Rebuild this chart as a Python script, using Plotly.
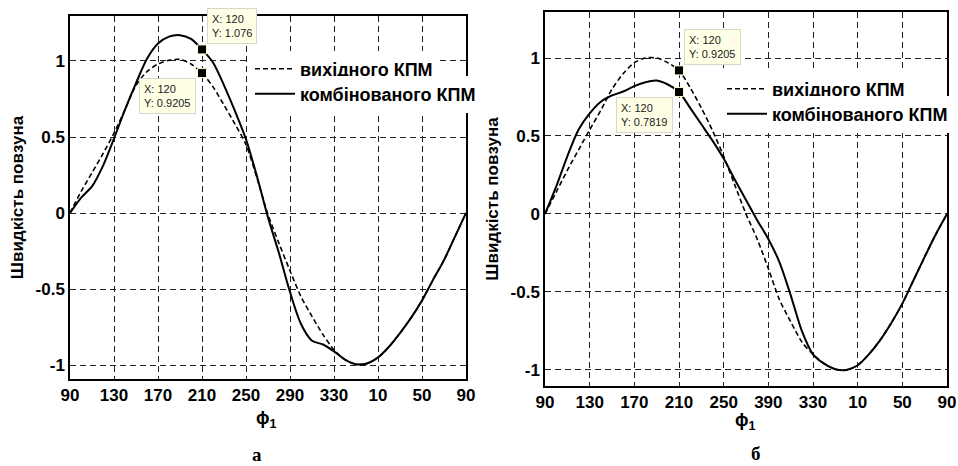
import plotly.graph_objects as go

# ---------------- data ----------------
phi = list(range(90, 451, 10))  # crank angle, continuous scale (90..450)

tick_vals = [90, 130, 170, 210, 250, 290, 330, 370, 410, 450]
tick_text_a = ["90", "130", "170", "210", "250", "290", "330", "10", "50", "90"]
tick_text_b = ["90", "130", "170", "210", "250", "390", "330", "10", "50", "90"]
y_tick_vals = [-1, -0.5, 0, 0.5, 1]
y_tick_text = ["-1", "-0.5", "0", "0.5", "1"]

# panel a
base_a = [0, 0.14, 0.265, 0.39, 0.525, 0.68, 0.84, 0.93, 0.98, 1.005, 1.01, 0.98, 0.9205,
          0.83, 0.71, 0.585, 0.45, 0.23, -0.01, -0.2, -0.38, -0.55, -0.68, -0.80, -0.90,
          -0.965, -0.995, -0.99, -0.95, -0.88, -0.79, -0.69, -0.575, -0.44, -0.31, -0.155, 0]
comb_a = [0, 0.10, 0.175, 0.31, 0.49, 0.68, 0.855, 1.015, 1.115, 1.16, 1.17, 1.145, 1.076,
          0.99, 0.84, 0.67, 0.485, 0.24, -0.03, -0.265, -0.52, -0.73, -0.84, -0.865, -0.91,
          -0.965, -0.995, -0.99, -0.95, -0.88, -0.79, -0.69, -0.575, -0.44, -0.31, -0.155, 0]

# panel b
base_b = [0, 0.14, 0.28, 0.41, 0.54, 0.665, 0.80, 0.90, 0.97, 1.0, 1.0, 0.97, 0.9205,
          0.81, 0.68, 0.535, 0.37, 0.185, 0.0, -0.16, -0.35, -0.55, -0.69, -0.82, -0.90,
          -0.96, -0.995, -1.0, -0.97, -0.90, -0.81, -0.70, -0.575, -0.425, -0.275, -0.13, 0]
comb_b = [0, 0.175, 0.37, 0.54, 0.645, 0.72, 0.76, 0.785, 0.82, 0.845, 0.855, 0.83, 0.7819,
          0.68, 0.575, 0.47, 0.355, 0.22, 0.09, -0.04, -0.16, -0.31, -0.52, -0.75, -0.90,
          -0.96, -0.995, -1.0, -0.97, -0.90, -0.81, -0.70, -0.575, -0.425, -0.275, -0.13, 0]

tip_x = 210
tip_label_x = 120
tips_a = [1.076, 0.9205]
tips_b = [0.9205, 0.7819]

names = ["вихідного КПМ", "комбінованого КПМ"]
captions = ["а", "б"]
x_title = "ϕ<sub>1</sub>"
y_title = "Швидкість повзуна"

# ---------------- figure ----------------
FONT = "Liberation Sans, Arial, sans-serif"
SERIF = "Liberation Serif, Times New Roman, serif"
W, H = 958, 466
fig = go.Figure()

def add_panel(xa, ya, legs, base, comb, tips):
    fig.add_trace(go.Scatter(x=phi, y=base, mode="lines", name=names[0],
                             line=dict(color="black", width=1.6, dash="5px,3px", shape="spline", smoothing=0.8),
                             xaxis=xa, yaxis=ya, legend=legs[0]))
    fig.add_trace(go.Scatter(x=phi, y=comb, mode="lines", name=names[1],
                             line=dict(color="black", width=2, shape="spline", smoothing=0.8),
                             xaxis=xa, yaxis=ya, legend=legs[1]))
    fig.add_trace(go.Scatter(x=[tip_x, tip_x], y=tips, mode="markers", showlegend=False,
                             marker=dict(symbol="square", size=9, color="black",
                                         line=dict(color="#fffacd", width=1)),
                             xaxis=xa, yaxis=ya, cliponaxis=False))
    upper = max(tips)
    lower = min(tips)
    fig.add_annotation(x=tip_x, y=upper, xref=xa, yref=ya, showarrow=False,
                       text=f"X: {tip_label_x}<br>Y: {upper:g}", align="left",
                       xanchor="left", yanchor="bottom", xshift=5, yshift=5,
                       font=dict(family=FONT, size=11, color="#222"),
                       bgcolor="#ffffe6", bordercolor="#d8d8c8", borderwidth=1, borderpad=4)
    fig.add_annotation(x=tip_x, y=lower, xref=xa, yref=ya, showarrow=False,
                       text=f"X: {tip_label_x}<br>Y: {lower:g}", align="left",
                       xanchor="right", yanchor="top", xshift=-6, yshift=-5,
                       font=dict(family=FONT, size=11, color="#222"),
                       bgcolor="#ffffe6", bordercolor="#d8d8c8", borderwidth=1, borderpad=4)

add_panel("x", "y", ["legend", "legend2"], base_a, comb_a, tips_a)
add_panel("x2", "y2", ["legend3", "legend4"], base_b, comb_b, tips_b)

def xdom(l, r):
    return [l / W, r / W]

def ydom(t, b):
    return [1 - b / H, 1 - t / H]

axis_common = dict(showline=True, mirror=True, linecolor="black", linewidth=1.5,
                   showgrid=True, gridcolor="#222", gridwidth=1, griddash="6px,4px",
                   zeroline=False, ticks="", ticklen=0, automargin=False,
                   tickfont=dict(family=FONT, size=17, color="black", weight="bold"))

def leg(px, py):
    return dict(x=px / W, y=1 - py / H, xanchor="left", yanchor="middle",
                bgcolor="white", borderwidth=0, itemwidth=40,
                font=dict(family=FONT, size=18, color="black", weight="bold"))

fig.update_layout(
    width=W, height=H,
    margin=dict(l=0, r=0, t=0, b=0, autoexpand=False),
    paper_bgcolor="white", plot_bgcolor="white",
    font=dict(family=FONT, color="black"),
    xaxis=dict(domain=xdom(70, 466), range=[90, 450], tickvals=tick_vals, ticktext=tick_text_a,
               anchor="y", **axis_common),
    yaxis=dict(domain=ydom(16, 379), range=[-1.092, 1.296], tickvals=y_tick_vals, ticktext=y_tick_text,
               title=dict(text=y_title, font=dict(family=FONT, size=17, weight="bold"), standoff=8),
               anchor="x", **axis_common),
    xaxis2=dict(domain=xdom(545, 947), range=[90, 450], tickvals=tick_vals, ticktext=tick_text_b,
                anchor="y2", **axis_common),
    yaxis2=dict(domain=ydom(12, 386), range=[-1.103, 1.295], tickvals=y_tick_vals, ticktext=y_tick_text,
                title=dict(text=y_title, font=dict(family=FONT, size=17, weight="bold"), standoff=8),
                anchor="x2", **axis_common),
    legend=leg(250, 69),
    legend2=leg(250, 94),
    legend3=leg(722, 89),
    legend4=leg(722, 114),
)

# x-axis titles (phi_1)
fig.add_annotation(x=266 / W, y=1 - 419 / H, xref="paper", yref="paper", text=x_title,
                   showarrow=False, xanchor="center", yanchor="middle",
                   font=dict(family=FONT, size=18, weight="bold"))
fig.add_annotation(x=745 / W, y=1 - 421 / H, xref="paper", yref="paper", text=x_title,
                   showarrow=False, xanchor="center", yanchor="middle",
                   font=dict(family=FONT, size=18, weight="bold"))

# panel captions
fig.add_annotation(x=257 / W, y=1 - 454 / H, xref="paper", yref="paper", text=captions[0],
                   showarrow=False, xanchor="center", yanchor="middle",
                   font=dict(family=SERIF, size=19, weight="bold"))
fig.add_annotation(x=756 / W, y=1 - 453 / H, xref="paper", yref="paper", text=captions[1],
                   showarrow=False, xanchor="center", yanchor="middle",
                   font=dict(family=SERIF, size=19, weight="bold"))

fig.write_html("out.html", config={"displayModeBar": False},
               post_script="document.body.style.margin='0';document.body.style.overflow='hidden';")
